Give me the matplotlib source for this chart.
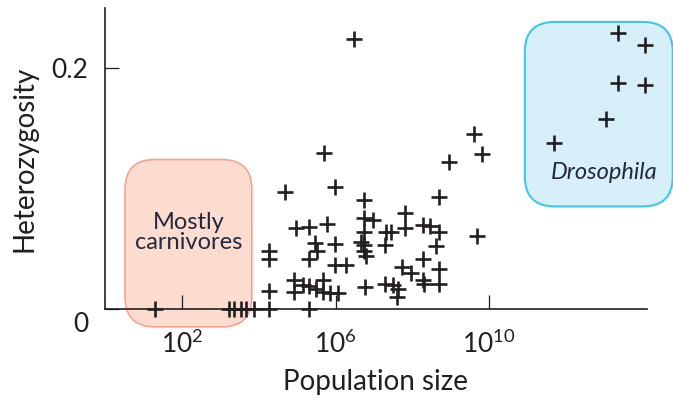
import numpy as np
import matplotlib
matplotlib.use("Agg")
import matplotlib.pyplot as plt
from matplotlib.patches import FancyBboxPatch
from matplotlib.transforms import ScaledTranslation

plt.rcParams['font.family'] = ['Lato', 'DejaVu Sans']
plt.rcParams['mathtext.fontset'] = 'custom'
plt.rcParams['mathtext.rm'] = 'Lato'
plt.rcParams['mathtext.it'] = 'Lato:italic'

# log10 of population size
log_pop = [
    1.29, 3.24, 3.37, 3.53, 3.67, 3.87, 4.27, 5.30,
    6.48, 5.69, 4.69, 5.99, 6.74, 4.97, 5.31, 5.78, 6.74, 6.97,
    4.28, 4.28, 5.46, 5.51, 5.30, 5.98, 6.73, 6.67, 6.73, 6.73, 6.80,
    7.32, 7.45, 7.28, 7.80, 7.80, 8.28, 8.45, 8.70, 8.61, 9.69,
    8.95, 9.60, 9.80, 8.69, 6.28, 5.98, 8.28, 7.73, 7.96,
    8.69, 8.69, 8.28, 8.30, 7.28, 7.49, 7.62, 7.59, 6.76,
    4.28, 4.93, 4.93, 5.15, 5.31, 5.50, 5.67, 5.67, 5.85, 6.06,
]
heterozygosity = [
    0.0, 0.0, 0.0, 0.0, 0.0, 0.0, 0.0, 0.0,
    0.224, 0.130, 0.097, 0.101, 0.091, 0.067, 0.068, 0.071, 0.076, 0.074,
    0.048, 0.042, 0.055, 0.048, 0.042, 0.054, 0.064, 0.056, 0.053, 0.048, 0.044,
    0.064, 0.064, 0.053, 0.080, 0.067, 0.070, 0.069, 0.064, 0.052, 0.061,
    0.122, 0.145, 0.129, 0.093, 0.037, 0.037, 0.042, 0.035, 0.030,
    0.033, 0.021, 0.024, 0.021, 0.021, 0.020, 0.017, 0.010, 0.018,
    0.015, 0.024, 0.014, 0.020, 0.019, 0.017, 0.024, 0.014, 0.013, 0.013,
]

# Drosophila species
dros_log_pop = [13.34, 14.05, 13.34, 14.05, 13.05, 11.69]
dros_het = [0.229, 0.219, 0.1875, 0.186, 0.158, 0.138]

xtick_exp = [2, 6, 10]
ytick_vals = [0, 0.2]
ytick_labels = ['0', '0.2']

fig = plt.figure(figsize=(6.73, 4.03), dpi=100)
ax = fig.add_axes([0.156, 0.233, 0.805, 0.747])

ink = '#231f20'
label_ink = '#24283f'
pop = 10.0 ** np.array(log_pop)
dros_pop = 10.0 ** np.array(dros_log_pop)

ax.set_xscale('log')
ax.set_xlim(1, 10 ** 14.1)
ax.set_ylim(0, 0.25)

# rounded boxes, in axes fraction
aspect = (0.805 * 673) / (0.747 * 403)
carn = FancyBboxPatch((0.037 + 0.055, -0.060 + 0.1), 0.234 - 0.11, 0.558 - 0.2,
                      boxstyle='round,pad=0.055,rounding_size=0.055',
                      mutation_aspect=aspect,
                      transform=ax.transAxes, clip_on=False,
                      facecolor='#fddcd0', edgecolor='#f7a38d', lw=1.2, zorder=1)
ax.add_patch(carn)
dros = FancyBboxPatch((0.775 + 0.055, 0.340 + 0.1), 0.273 - 0.11, 0.615 - 0.2,
                      boxstyle='round,pad=0.055,rounding_size=0.055',
                      mutation_aspect=aspect,
                      transform=ax.transAxes, clip_on=False,
                      facecolor='#d7eff9', edgecolor='#3ec7ee', lw=1.5, zorder=1)
ax.add_patch(dros)

ax.text(0.154, 0.255, 'Mostly\ncarnivores', transform=ax.transAxes,
        ha='center', va='center', fontsize=17, color=label_ink,
        linespacing=0.95, zorder=2)
ax.text(0.922, 0.455, 'Drosophila', transform=ax.transAxes,
        ha='center', va='center', fontsize=17, style='italic',
        color=label_ink, zorder=2)

ax.plot(pop, heterozygosity, linestyle='none', marker='+', markersize=11,
        markeredgewidth=1.9, color=ink, clip_on=False, zorder=3)
ax.plot(dros_pop, dros_het, linestyle='none', marker='+', markersize=11,
        markeredgewidth=1.9, color=ink, clip_on=False, zorder=3)

for side in ['top', 'right']:
    ax.spines[side].set_visible(False)
for side in ['left', 'bottom']:
    ax.spines[side].set_linewidth(1.2)
    ax.spines[side].set_color(ink)
    ax.spines[side].set_zorder(2.5)

ax.set_xticks([10.0 ** e for e in xtick_exp])
ax.set_xticklabels([r'$\mathregular{10^{%d}}$' % e for e in xtick_exp])
ax.xaxis.set_minor_locator(matplotlib.ticker.NullLocator())
ax.set_yticks(ytick_vals)
ax.set_yticklabels(ytick_labels)
ax.tick_params(axis='both', direction='in', length=10, width=0.9, color=ink,
               labelsize=19, labelcolor=ink)
ax.tick_params(axis='x', pad=15)
ax.tick_params(axis='y', pad=12)

# "0" sits a bit below the axis line
lab0 = ax.get_yticklabels()[0]
lab0.set_transform(lab0.get_transform() + ScaledTranslation(0, -9 / 72, fig.dpi_scale_trans))

ax.set_xlabel('Population size', fontsize=20, color=ink, labelpad=8)
ax.set_ylabel('Heterozygosity', fontsize=20, color=ink, labelpad=10)

fig.savefig('out.png', dpi=100)
